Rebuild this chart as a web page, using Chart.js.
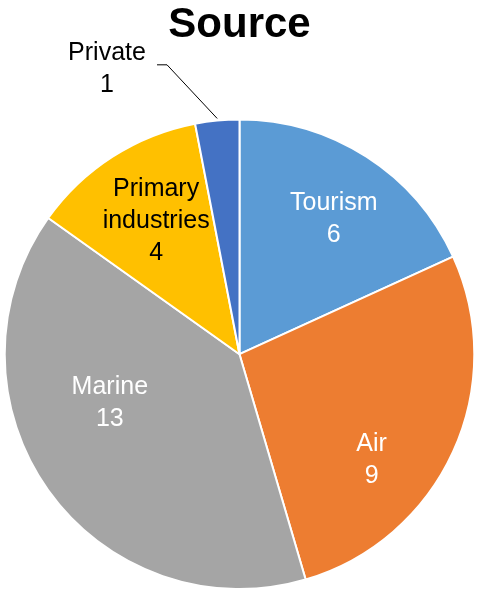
<!DOCTYPE html>
<html>
<head>
<meta charset="utf-8">
<script src="https://cdn.jsdelivr.net/npm/chart.js@4/dist/chart.umd.min.js"></script>
<style>
  html, body { margin: 0; padding: 0; background: #fff; overflow: hidden; }
  #wrap { width: 478px; height: 590px; }
</style>
</head>
<body>
<div id="wrap"><canvas id="source-chart"></canvas></div>
<script>
const categories = ['Tourism', 'Air', 'Marine', 'Primary industries', 'Private'];
const counts = [6, 9, 13, 4, 1];
const sliceColors = ['#5B9BD5', '#ED7D31', '#A5A5A5', '#FFC000', '#4472C4'];

// where each label sits: angle from 12 o'clock (deg) and fraction of radius
const labelSpots = [
  { angle: 35, frac: 0.70, color: '#fff', lines: ['Tourism'] },
  { angle: 128.6, frac: 0.72, color: '#fff', lines: ['Air'] },
  { angle: 249.4, frac: 0.59, color: '#fff', lines: ['Marine'] },
  { angle: 328, frac: 0.67, color: '#000', lines: ['Primary', 'industries'] },
  { angle: 335.1, frac: 1.34, color: '#000', lines: ['Private'], leader: true }
];

const FONT = '25px "Liberation Sans", Arial, sans-serif';
const LINE_H = 32;

const sliceLabels = {
  id: 'sliceLabels',
  afterDatasetsDraw(chart) {
    const ctx = chart.ctx;
    const arcs = chart.getDatasetMeta(0).data;
    ctx.save();
    ctx.font = FONT;
    ctx.textAlign = 'center';
    ctx.textBaseline = 'middle';
    arcs.forEach((arc, i) => {
      const spot = labelSpots[i];
      const cx = arc.x, cy = arc.y, r = arc.outerRadius;
      const a = spot.angle * Math.PI / 180;
      const x = cx + Math.sin(a) * r * spot.frac;
      const y = cy - Math.cos(a) * r * spot.frac;
      const lines = spot.lines.concat([String(counts[i])]);
      const top = y - (lines.length - 1) * LINE_H / 2;
      ctx.fillStyle = spot.color;
      lines.forEach((t, k) => ctx.fillText(t, x, top + k * LINE_H));

      if (spot.leader) {
        // leader from the label to the middle of the slice's rim
        const mid = (arc.startAngle + arc.endAngle) / 2;
        const ex = cx + Math.cos(mid) * r;
        const ey = cy + Math.sin(mid) * r;
        const lx = x + 50, ly = top + 12;
        ctx.strokeStyle = '#000';
        ctx.lineWidth = 1;
        ctx.beginPath();
        ctx.moveTo(lx, ly);
        ctx.lineTo(lx + 10, ly);
        ctx.lineTo(ex, ey - 2);
        ctx.stroke();
      }
    });
    ctx.restore();
  }
};

new Chart(document.getElementById('source-chart'), {
  type: 'pie',
  data: {
    labels: categories,
    datasets: [{
      data: counts,
      backgroundColor: sliceColors,
      borderColor: '#ffffff',
      borderWidth: 2
    }]
  },
  options: {
    responsive: true,
    maintainAspectRatio: false,
    animation: false,
    layout: { padding: { left: 3, right: 2, top: 0, bottom: 0 } },
    plugins: {
      legend: { display: false },
      tooltip: { enabled: false },
      title: {
        display: true,
        text: 'Source',
        color: '#000',
        font: { family: '"Liberation Sans", Arial, sans-serif', size: 42, weight: 'bold', lineHeight: 1.2 },
        padding: { top: 0, bottom: 68 }
      }
    }
  },
  plugins: [sliceLabels]
});
</script>
</body>
</html>
